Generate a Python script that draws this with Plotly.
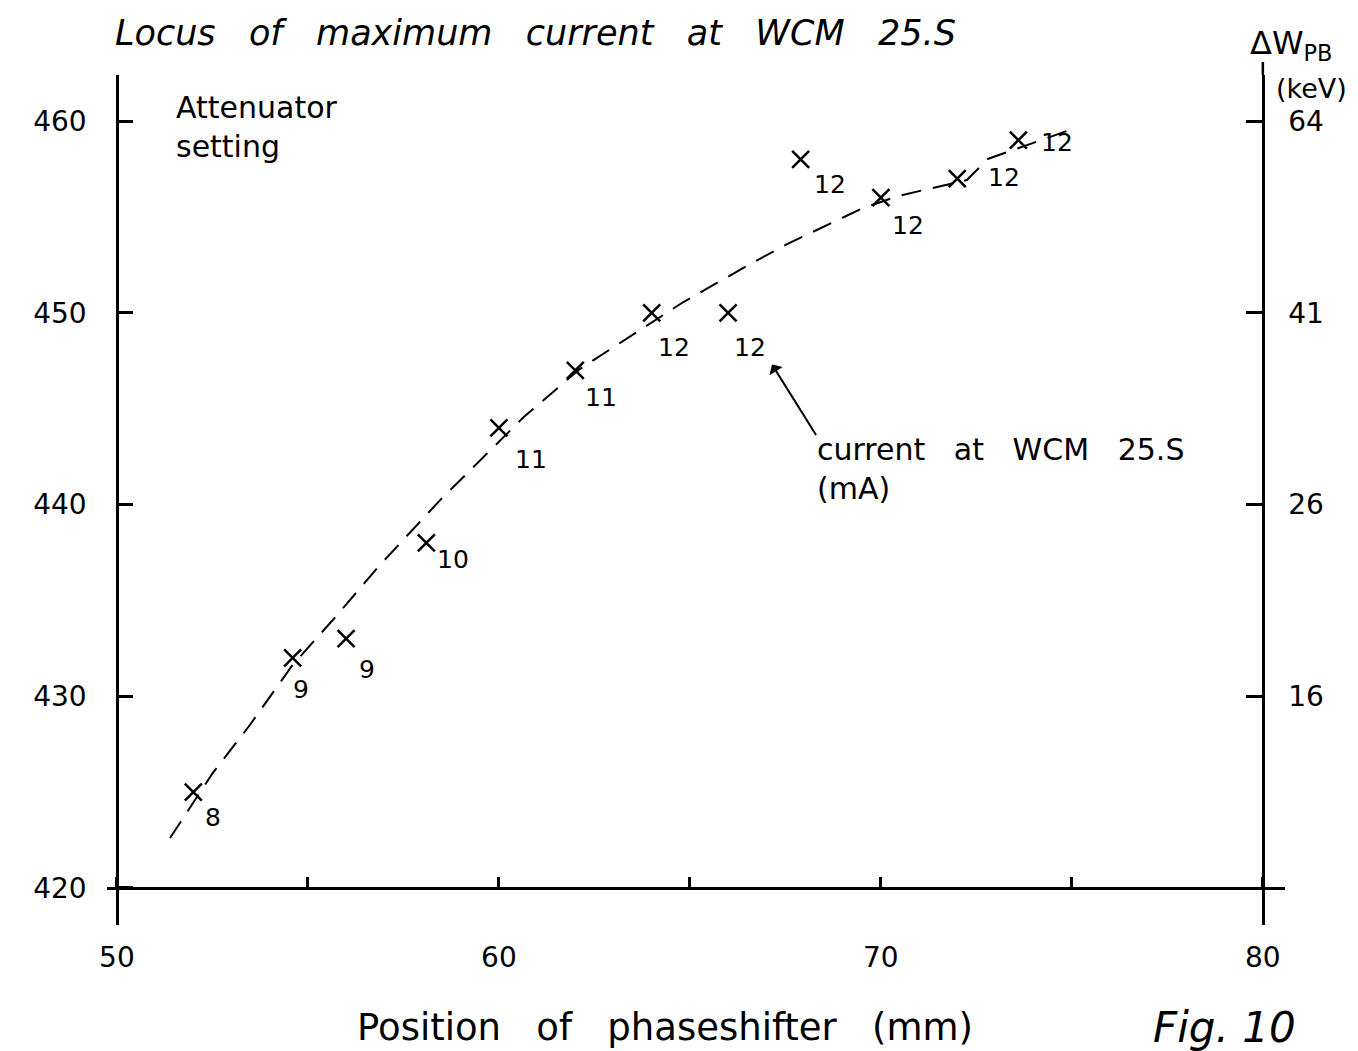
import plotly.graph_objects as go

# ---- data ----
phase_mm = [52.0, 54.6, 56.0, 58.1, 60.0, 62.0, 64.0, 66.0, 67.9, 70.0, 72.0, 73.6]
freq_val = [425.0, 432.0, 433.0, 438.0, 444.0, 447.0, 450.0, 450.0, 458.0, 456.0, 457.0, 459.0]
current_ma = ["8", "9", "9", "10", "11", "11", "12", "12", "12", "12", "12", "12"]

curve_x = [51.39, 52.51, 53.48, 54.58, 55.79, 56.86, 58.46, 59.97, 60.65, 62.12, 64.01,
           64.79, 66.39, 67.49, 69.53, 70.45, 72.25, 72.80, 75.08]
curve_y = [422.61, 426.0, 428.5, 431.58, 434.29, 436.79, 440.23, 443.21, 444.56, 447.07, 449.52,
           450.51, 452.33, 453.53, 455.46, 456.09, 456.92, 458.02, 459.63]

x_ticks = [50, 55, 60, 65, 70, 75, 80]
x_ticktext = ["50", "", "60", "", "70", "", "80"]
y_ticks = [420, 430, 440, 450, 460]
y_ticktext = ["420", "430", "440", "450", "460"]
dw_ticks = [430, 440, 450, 460]
dw_ticktext = ["16", "26", "41", "64"]

# label offsets (pixels) for the attenuator-current labels
lab_dx = [20, 8, 21, 27, 32, 26, 22, 22, 29, 27, 47, 39]
lab_dy = [-25, -32, -31, -17, -32, -27, -35, -35, -25, -28, 1, -2]

FONT = "DejaVu Sans"
XR = [49.74, 80.58]
YR = [418.07, 462.4]
SP = "\u00a0\u00a0\u00a0"

def xpaper(v):
    return (v - XR[0]) / (XR[1] - XR[0])

def ypaper(v):
    return (v - YR[0]) / (YR[1] - YR[0])

fig = go.Figure()

fig.add_trace(go.Scatter(
    x=curve_x, y=curve_y, mode="lines",
    line=dict(color="black", width=2, dash="20px,12px"),
    hoverinfo="skip", showlegend=False))

fig.add_trace(go.Scatter(
    x=phase_mm, y=freq_val, mode="markers",
    marker=dict(symbol="x-thin", size=17, line=dict(width=2.5, color="black"), color="black"),
    showlegend=False))

# invisible trace so the right axis is drawn
fig.add_trace(go.Scatter(
    x=phase_mm, y=freq_val, yaxis="y2", mode="markers",
    marker=dict(opacity=0), hoverinfo="skip", showlegend=False))

for xv, yv, t, dx, dy in zip(phase_mm, freq_val, current_ma, lab_dx, lab_dy):
    fig.add_annotation(x=xv, y=yv, text=t, showarrow=False,
                       xshift=dx, yshift=dy, font=dict(family=FONT, size=25, color="black"))

annots = [
    dict(xref="paper", yref="paper", x=xpaper(49.9), y=ypaper(464.59),
         text="<i>" + SP.join(["Locus", "of", "maximum", "current", "at", "WCM", "25.S"]) + "</i>",
         xanchor="left", yanchor="middle", font=dict(size=35)),
    dict(xref="paper", yref="paper", x=xpaper(51.5), y=ypaper(461.7), text="Attenuator<br>setting",
         xanchor="left", yanchor="top", align="left", font=dict(size=30)),
    dict(xref="paper", yref="paper", x=xpaper(79.6), y=ypaper(463.96), text="\u0394W<sub>PB</sub>",
         xanchor="left", yanchor="middle", font=dict(size=32)),
    dict(xref="paper", yref="paper", x=xpaper(80.3), y=ypaper(461.72), text="(keV)",
         xanchor="left", yanchor="middle", font=dict(size=27)),
    dict(xref="paper", yref="paper", x=xpaper(68.27), y=ypaper(443.9),
         text=SP.join(["current", "at", "WCM", "25.S"]) + "<br>(mA)",
         xanchor="left", yanchor="top", align="left", font=dict(size=30)),
    dict(xref="paper", yref="paper", x=0.474, y=-0.12,
         text=SP.join(["Position", "of", "phaseshifter", "(mm)"]),
         xanchor="center", yanchor="middle", font=dict(size=37)),
    dict(xref="paper", yref="paper", x=0.949, y=-0.12, text="<i>Fig. 10</i>",
         xanchor="center", yanchor="middle", font=dict(size=42)),
]
for a in annots:
    a["showarrow"] = False
    a["font"]["family"] = FONT
    a["font"]["color"] = "black"
    fig.add_annotation(**a)

# pointer arrow
fig.add_annotation(x=67.15, y=447.3, ax=45, ay=72, text="", showarrow=True,
                   arrowhead=1, arrowsize=1.3, arrowwidth=2, arrowcolor="black", standoff=0)

fig.update_layout(
    width=1358, height=1051,
    margin=dict(l=107, r=73, t=75, b=126),
    paper_bgcolor="white", plot_bgcolor="white",
    font=dict(family=FONT, color="black"),
    xaxis=dict(range=XR, showgrid=False, zeroline=False, anchor="free", position=ypaper(420),
               showline=True, linecolor="black", linewidth=2.5,
               tickvals=x_ticks, ticktext=x_ticktext, ticks="inside", ticklen=10, tickwidth=2.5,
               tickcolor="black", ticklabelstandoff=44, tickfont=dict(size=28, family=FONT)),
    yaxis=dict(range=YR, showgrid=False, zeroline=False, anchor="free", position=xpaper(50),
               showline=True, linecolor="black", linewidth=2.5,
               tickvals=y_ticks, ticktext=y_ticktext, ticks="inside", ticklen=14, tickwidth=2.5,
               tickcolor="black", ticklabelstandoff=24, tickfont=dict(size=28, family=FONT)),
    yaxis2=dict(range=YR, overlaying="y", side="right", anchor="free", position=xpaper(80),
                showgrid=False, zeroline=False, showline=True, linecolor="black", linewidth=2.5,
                tickvals=dw_ticks, ticktext=dw_ticktext, ticks="inside", ticklen=16, tickwidth=2.5,
                tickcolor="black", ticklabelstandoff=18, tickfont=dict(size=28, family=FONT)),
    shapes=[dict(type="line", xref="paper", yref="paper", x0=xpaper(80), x1=xpaper(80),
                 y0=1.0, y1=1.0 + 13 / 850, line=dict(color="black", width=2.5))],
)

fig.write_html("out.html")
